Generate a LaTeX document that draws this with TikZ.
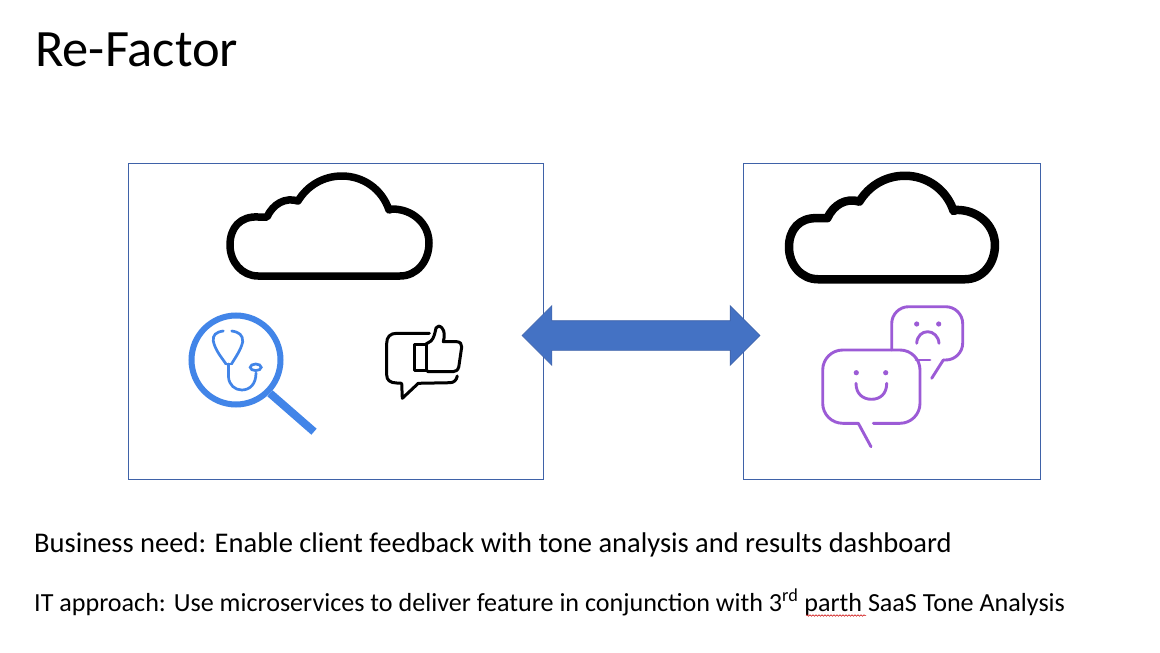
\documentclass[tikz,border=0pt]{standalone}
\usepackage{xcolor}
\usepackage{fontspec}
\setmainfont{Carlito}
\usepackage{tikz}
\usetikzlibrary{shapes.arrows,decorations.pathmorphing}
\definecolor{boxblue}{HTML}{3F62A8}
\definecolor{arrowblue}{HTML}{4472C4}
\definecolor{lensblue}{HTML}{4285E8}
\definecolor{tonepurple}{HTML}{9C5BD6}

\begin{document}
\begin{tikzpicture}[
  x=1pt, y=-1pt,
  panel/.style={draw=boxblue, line width=1pt, minimum height=316pt, inner sep=0pt},
  heading/.style={anchor=base west, inner sep=0pt, font=\fontsize{52.5}{60}\selectfont},
  bodytext/.style={anchor=base west, inner sep=0pt},
  lens/.style={draw=lensblue, line width=2.7pt, line cap=round},
  thumb/.style={draw=black, line width=3pt, line cap=round, line join=round},
  tone/.style={draw=tonepurple, line width=2.9pt, line cap=round, line join=round},
  cloudicon/.pic={
    \draw[line join=round] (-72,50) -- (70,50) .. controls (87,50) and (99,35) .. (99,17)
      .. controls (99,-2) and (83,-17) .. (62,-17) -- (59,-16)
      .. controls (52,-37) and (33,-50) .. (12,-50) .. controls (-7,-50) and (-23,-40) .. (-32,-25)
      .. controls (-45,-29) and (-57,-22) .. (-63,-9) -- (-72,-9)
      .. controls (-90,-10) and (-100,2) .. (-100,19) .. controls (-100,36) and (-88,50) .. (-72,50) -- cycle;
  }]
\useasboundingbox (0,0) rectangle (1160,653);
\fill[white] (0,0) rectangle (1160,653);

\node[heading] (title) at (35,66) {Re-Factor};

% two panels
\node[panel, minimum width=415pt] (oldapp) at (336,321) {};
\node[panel, minimum width=297pt] (newapp) at (892,321) {};
\node[double arrow, draw=boxblue, fill=arrowblue, line width=0.6pt, inner xsep=0pt, inner ysep=14.5pt,
      minimum height=238pt, double arrow head extend=15pt,
      double arrow tip angle=90] (link) at (641,335.5) {};

% clouds
\pic[line width=7.5pt] at (330,226) {cloudicon};
\pic[line width=8.5pt, scale=1.035] at (892.5,227.5) {cloudicon};

% magnifier with stethoscope
\draw[draw=lensblue, line width=6pt] (236,360) circle (44.5);
\draw[draw=lensblue, line width=8pt] (270,393.3) -- (314,431.7);
\draw[lens] (223.3,331) .. controls (216,332) and (212.5,335) .. (213.3,341) .. controls (215,350) and (222,358) .. (226,364);
\draw[lens] (231.7,331) .. controls (239,332) and (243,335) .. (242.7,341.7) .. controls (241,350) and (235,358) .. (231.5,364);
\draw[lens] (226,364) -- (231.5,364);
\draw[lens] (228.5,364) -- (228.5,377) .. controls (229,385) and (235,390) .. (241.7,390)
  .. controls (250,390) and (256,384) .. (256,373);
\draw[lens] (255.7,367.3) ellipse (5.5 and 3.3);

% feedback bubble with thumb
\draw[thumb] (429.3,333.3) -- (396.7,333.3) .. controls (390,333.3) and (386.7,337) .. (386.7,343.3)
  -- (386.7,375) .. controls (386.7,380) and (390,383) .. (396.7,383) -- (401.7,383.3)
  -- (402.3,398.3) -- (418.3,383.3) -- (450,382.7) .. controls (454,382.7) and (456.5,380) .. (457.3,376);
\draw[thumb] (414.3,344) rectangle (426,370);
\draw[thumb] (426,344) -- (431,341) .. controls (434,338) and (435,333) .. (436,328)
  .. controls (437,325.5) and (440,325.5) .. (442,328) .. controls (445,331) and (444.5,337) .. (443.3,341.7)
  -- (456.7,341.7) .. controls (460,341.7) and (462,344) .. (461.7,347) -- (458.8,366.7)
  .. controls (458,370) and (456,371.7) .. (453,371.7) -- (428.3,371.7) -- (426,370);

% tone bubbles
\draw[tone, rounded corners=20pt] (873.3,423.3) -- (920,423.3) -- (920,350) -- (822.7,350) -- (822.7,423.3) -- (858.3,423.3);
\draw[tone] (858.3,423.3) -- (871,446.7);
\fill[tonepurple] (856.3,372.7) circle (2.6) (885.7,372.7) circle (2.6);
\draw[tone] (856,383.3) .. controls (856,394) and (863,399.3) .. (871.5,399.3) .. controls (880,399.3) and (886.7,394) .. (886.7,383.3);
\draw[tone, rounded corners=17pt] (891.7,350) -- (891.7,306.7) -- (962.7,306.7) -- (962.7,360) -- (943.3,360);
\draw[tone] (943.3,360) -- (931.7,378.3);
\draw[tone] (916,360) -- (930,360);
\fill[tonepurple] (916.7,324) circle (2.6) (938.7,324) circle (2.6);
\draw[tone] (916.7,343.3) .. controls (917,336) and (922,331.7) .. (927.7,331.7) .. controls (933,331.7) and (938.5,336) .. (939,343.3);

% captions
\node[bodytext, font=\fontsize{28.5}{32}\selectfont] (need) at (34,552) {Business need: Enable client feedback with tone analysis and results dashboard};
\node[bodytext, font=\fontsize{26.1}{32}\selectfont] (approach) at (34,611) {IT approach: Use microservices to deliver feature in conjunction with 3\textsuperscript{rd} parth SaaS Tone Analysis};
\draw[red!80!black, line width=0.5pt, decorate, decoration={snake, amplitude=0.8pt, segment length=3pt}] (806,615.5) -- (866,615.5);
\end{tikzpicture}
\end{document}
